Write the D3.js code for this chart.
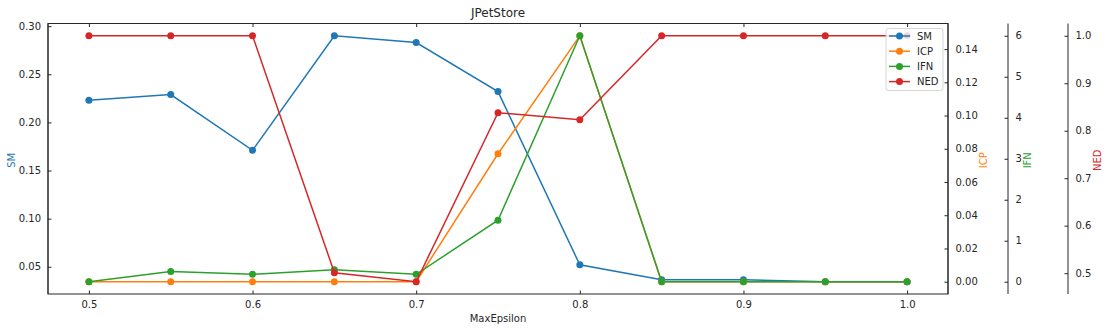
<!DOCTYPE html>
<html>
<head>
<meta charset="utf-8">
<script src="https://d3js.org/d3.v7.min.js"></script>
<style>
body { margin: 0; background: #fff; }
text { font-family: "DejaVu Sans", sans-serif; fill: #262626; }
.tick text { font-size: 10px; }
</style>
</head>
<body>
<svg width="1109" height="328"></svg>
<script>
// data
var maxEpsilon = [0.5, 0.55, 0.6, 0.65, 0.7, 0.75, 0.8, 0.85, 0.9, 0.95, 1.0];
var sm  = [0.223, 0.229, 0.171, 0.290, 0.283, 0.232, 0.052, 0.0365, 0.0365, 0.0345, 0.0345];
var icp = [0, 0, 0, 0, 0, 0.077, 0.148, 0, 0, 0, 0];
var ifn = [0, 0.25, 0.18, 0.29, 0.18, 1.5, 6, 0, 0, 0, 0];
var ned = [1.0, 1.0, 1.0, 0.501, 0.482, 0.838, 0.823, 1.0, 1.0, 1.0, 1.0];

var xTicks   = [0.5, 0.6, 0.7, 0.8, 0.9, 1.0];
var smTicks  = [0.05, 0.10, 0.15, 0.20, 0.25, 0.30];
var icpTicks = [0, 0.02, 0.04, 0.06, 0.08, 0.10, 0.12, 0.14];
var ifnTicks = [0, 1, 2, 3, 4, 5, 6];
var nedTicks = [0.5, 0.6, 0.7, 0.8, 0.9, 1.0];

var svg = d3.select("svg"),
    pLeft = 48, pRight = 948, pTop = 23.5, pBottom = 294;

// matplotlib-style 5% margins
function pad(vals) {
  var e = d3.extent(vals), m = (e[1] - e[0]) * 0.05;
  return [e[0] - m, e[1] + m];
}

var x = d3.scaleLinear().domain(pad(maxEpsilon)).range([pLeft, pRight]);

var series = [
  {name: "SM",  values: sm,  color: "#1f77b4", ticks: smTicks,  fmt: d3.format(".2f")},
  {name: "ICP", values: icp, color: "#ff7f0e", ticks: icpTicks, fmt: d3.format(".2f")},
  {name: "IFN", values: ifn, color: "#2ca02c", ticks: ifnTicks, fmt: d3.format("d")},
  {name: "NED", values: ned, color: "#d62728", ticks: nedTicks, fmt: d3.format(".1f")}
];
series.forEach(function(s) {
  s.y = d3.scaleLinear().domain(pad(s.values)).range([pBottom, pTop]);
});

// frame
svg.append("rect")
    .attr("x", pLeft).attr("y", pTop)
    .attr("width", pRight - pLeft).attr("height", pBottom - pTop)
    .attr("fill", "none").attr("stroke", "#262626").attr("stroke-width", 1);

// x axes (bottom + inward ticks on top)
var xAxis = svg.append("g")
    .attr("transform", "translate(0," + pBottom + ")")
    .call(d3.axisBottom(x).tickValues(xTicks).tickFormat(d3.format(".1f")).tickSizeInner(-3.5).tickSizeOuter(0).tickPadding(7));
xAxis.select(".domain").remove();
var xTop = svg.append("g")
    .attr("transform", "translate(0," + pTop + ")")
    .call(d3.axisTop(x).tickValues(xTicks).tickSizeInner(-3.5).tickSizeOuter(0));
xTop.select(".domain").remove();
xTop.selectAll("text").remove();

// y axes
var axisX = [pLeft, pRight, 1008, 1068];
var labelX = [11, 983, 1027, 1097];
series.forEach(function(s, i) {
  var ax = i === 0 ? d3.axisLeft(s.y) : d3.axisRight(s.y);
  ax.tickValues(s.ticks).tickFormat(s.fmt).tickSizeInner(i === 0 ? -3.5 : 3.5).tickSizeOuter(0).tickPadding(i === 0 ? 7 : 4);
  var g = svg.append("g").attr("transform", "translate(" + axisX[i] + ",0)").call(ax);
  g.select(".domain").attr("d", "M0," + pTop + "V" + pBottom).attr("stroke", "#262626");
  if (i > 0) g.selectAll(".tick line").attr("x2", -3.5);
  svg.append("text")
      .attr("transform", "translate(" + labelX[i] + "," + ((pTop + pBottom) / 2 + 1.5) + ") rotate(-90)")
      .attr("text-anchor", "middle").attr("dy", "0.35em")
      .style("font-size", "10px").style("fill", s.color)
      .text(s.name);
});
svg.selectAll(".tick line").attr("stroke", "#262626");
svg.selectAll(".tick text").style("fill", "#262626");

// lines
series.forEach(function(s) {
  var pts = maxEpsilon.map(function(d, i) { return [d, s.values[i]]; });
  var line = d3.line().x(function(d) { return x(d[0]); }).y(function(d) { return s.y(d[1]); });
  svg.append("path").datum(pts)
      .attr("d", line).attr("fill", "none")
      .attr("stroke", s.color).attr("stroke-width", 1.5);
  svg.selectAll(null).data(pts).enter().append("circle")
      .attr("cx", function(d) { return x(d[0]); })
      .attr("cy", function(d) { return s.y(d[1]); })
      .attr("r", 3.5).attr("fill", s.color);
});

// title + x label
svg.append("text").attr("x", (pLeft + pRight) / 2).attr("y", 17)
    .attr("text-anchor", "middle").style("font-size", "12px").text("JPetStore");
svg.append("text").attr("x", (pLeft + pRight) / 2).attr("y", 322)
    .attr("text-anchor", "middle").style("font-size", "10px").text("MaxEpsilon");

// legend
var lg = svg.append("g").attr("transform", "translate(886,28.5)");
lg.append("rect").attr("width", 57).attr("height", 62).attr("rx", 2.5)
    .attr("fill", "#fff").attr("fill-opacity", 0.8).attr("stroke", "#ccc").attr("stroke-width", 0.8);
series.forEach(function(s, i) {
  var row = lg.append("g").attr("transform", "translate(0," + (7.5 + i * 15.2) + ")");
  row.append("line").attr("x1", 3).attr("x2", 24).attr("stroke", s.color).attr("stroke-width", 1.5);
  row.append("circle").attr("cx", 13.5).attr("r", 3.5).attr("fill", s.color);
  row.append("text").attr("x", 31).attr("dy", "0.35em").style("font-size", "10px").text(s.name);
});
</script>
</body>
</html>
